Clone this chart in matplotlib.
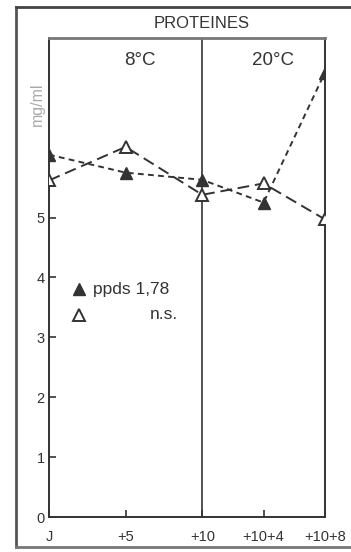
import matplotlib
matplotlib.use("Agg")
import matplotlib.pyplot as plt
from matplotlib.lines import Line2D

plt.rcParams['font.family'] = ['Liberation Sans', 'DejaVu Sans']

# sampling days (J, +5, +10, +10+4, +10+8)
days = [0, 5, 10, 14, 18]
day_labels = ["J", "+5", "+10", "+10+4", "+10+8"]

# proteins, mg/ml
ppds = [6.05, 5.75, 5.63, 5.25, 7.42]
ns = [5.62, 6.18, 5.38, 5.57, 4.97]

y_ticks = [0, 1, 2, 3, 4, 5]

ink = "#333333"

fig = plt.figure(figsize=(3.51, 5.52), dpi=100)
ax = fig.add_axes([0.1396, 0.0634, 0.786, 0.868])

ax.plot(days, ppds, color=ink, lw=1.4, ls=(0, (3, 2.2)),
        marker="^", ms=8.5, mfc=ink, mec=ink, zorder=3)
ax.plot(days, ns, color=ink, lw=1.4, ls=(0, (6, 3)),
        marker="^", ms=8.5, mfc="white", mec=ink, mew=1.4, zorder=4)

# boundary between the two temperatures
ax.axvline(10, color=ink, lw=1.2)

ax.set_xlim(0, 18)
ax.set_ylim(0, 8)
ax.set_xticks(days)
ax.set_xticklabels(day_labels)
ax.set_yticks(y_ticks)
ax.tick_params(direction="in", length=5, width=1.2, colors=ink,
               labelsize=10.5, pad=3)
ax.tick_params(axis="x", pad=9)
for s in ax.spines.values():
    s.set_color(ink)
    s.set_linewidth(1.4)
ax.spines["top"].set_color("#777777")
ax.spines["top"].set_linewidth(2)

ax.text(5.95, 7.62, "8°C", ha="center", va="center", fontsize=13.5, color=ink)
ax.text(14.6, 7.62, "20°C", ha="center", va="center", fontsize=13.5, color=ink)
fig.text(202 / 351, 1 - 24 / 552, "PROTEINES", ha="center", va="center",
         fontsize=12, color=ink)
fig.text(37 / 351, 1 - 104 / 552, "mg/ml", ha="center", va="center",
         rotation=90, fontsize=11.5, color="#aaaaaa")

# legend
ax.plot([1.96], [3.8], marker="^", ms=8.5, color=ink, ls="none")
ax.text(2.9, 3.8, "ppds 1,78", va="center", fontsize=12.5, color=ink)
ax.plot([1.96], [3.38], marker="^", ms=8.5, mfc="white", mec=ink, mew=1.4, ls="none")
ax.text(8.4, 3.38, "n.s.", va="center", ha="right", fontsize=12.5, color=ink)

# outer frame
fig.add_artist(Line2D([16 / 351, 16 / 351], [1 - 7 / 552, 1 - 547 / 552],
                      color="#555555", lw=2))
fig.add_artist(Line2D([16 / 351, 1], [1 - 7 / 552, 1 - 7 / 552],
                      color="#444444", lw=2))
fig.add_artist(Line2D([16 / 351, 1], [1 - 547 / 552, 1 - 547 / 552],
                      color="#777777", lw=2))

fig.savefig("out.png", dpi=100)
